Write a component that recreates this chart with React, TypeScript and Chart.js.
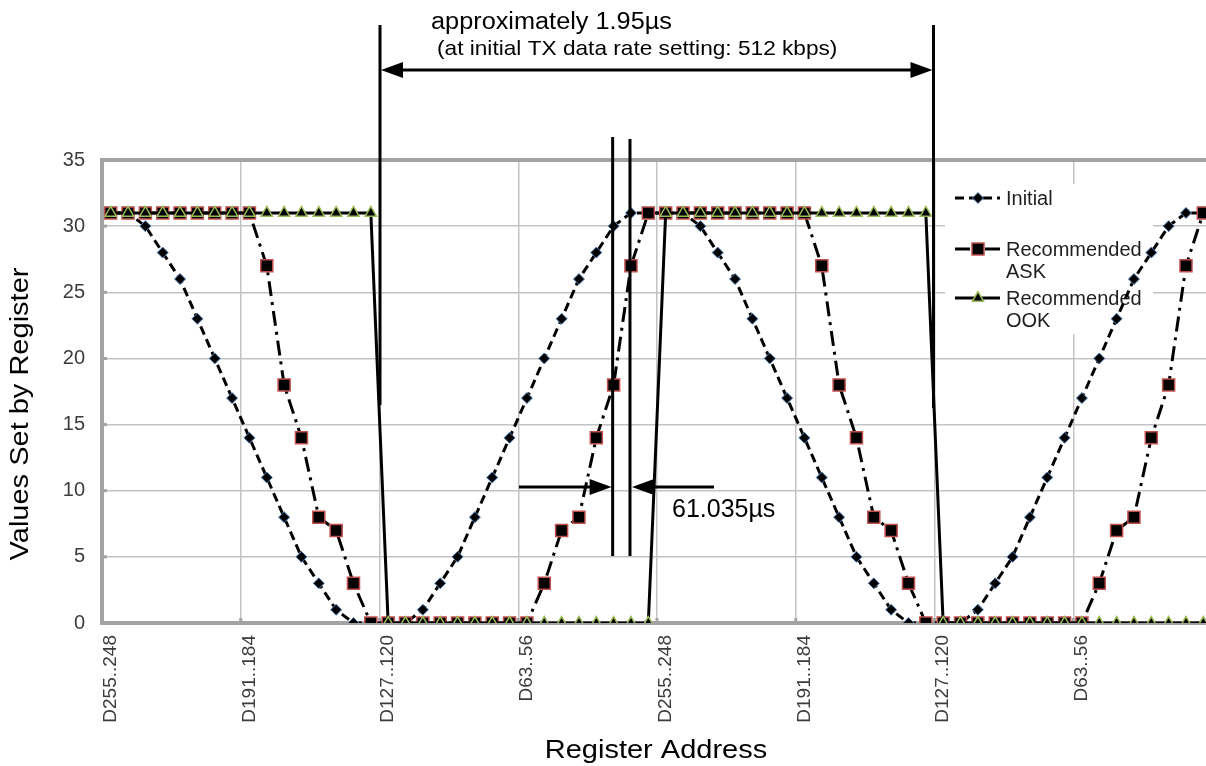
import React, { useEffect, useRef } from 'react';
import { Chart, registerables } from 'chart.js';

Chart.register(...registerables);

// ---------- data ----------
const registerGroups = [
  'D255..248', 'D247..240', 'D239..232', 'D231..224', 'D223..216', 'D215..208', 'D207..200', 'D199..192',
  'D191..184', 'D183..176', 'D175..168', 'D167..160', 'D159..152', 'D151..144', 'D143..136', 'D135..128',
  'D127..120', 'D119..112', 'D111..104', 'D103..96', 'D95..88', 'D87..80', 'D79..72', 'D71..64',
  'D63..56', 'D55..48', 'D47..40', 'D39..32', 'D31..24', 'D23..16', 'D15..8', 'D7..0',
];
const xCategories = [...registerGroups, ...registerGroups];

const initialValues = [
  31, 31, 30, 28, 26, 23, 20, 17, 14, 11, 8, 5, 3, 1, 0, 0,
  0, 0, 1, 3, 5, 8, 11, 14, 17, 20, 23, 26, 28, 30, 31, 31,
  31, 31, 30, 28, 26, 23, 20, 17, 14, 11, 8, 5, 3, 1, 0, 0,
  0, 0, 1, 3, 5, 8, 11, 14, 17, 20, 23, 26, 28, 30, 31, 31,
];
const askValues = [
  31, 31, 31, 31, 31, 31, 31, 31, 31, 27, 18, 14, 8, 7, 3, 0,
  0, 0, 0, 0, 0, 0, 0, 0, 0, 3, 7, 8, 14, 18, 27, 31,
  31, 31, 31, 31, 31, 31, 31, 31, 31, 27, 18, 14, 8, 7, 3, 0,
  0, 0, 0, 0, 0, 0, 0, 0, 0, 3, 7, 8, 14, 18, 27, 31,
];
const ookValues = [
  31, 31, 31, 31, 31, 31, 31, 31, 31, 31, 31, 31, 31, 31, 31, 31,
  0, 0, 0, 0, 0, 0, 0, 0, 0, 0, 0, 0, 0, 0, 0, 0,
  31, 31, 31, 31, 31, 31, 31, 31, 31, 31, 31, 31, 31, 31, 31, 31,
  0, 0, 0, 0, 0, 0, 0, 0, 0, 0, 0, 0, 0, 0, 0, 0,
];
const seriesLabels = [['Initial'], ['Recommended', 'ASK'], ['Recommended', 'OOK']];
const yMin = 0;
const yMax = 35;
const yStep = 5;
const labelEvery = 8;
const xTitle = 'Register Address';
const yTitle = 'Values Set by Register';
const spanText1 = 'approximately 1.95µs';
const spanText2 = '(at initial TX data rate setting: 512 kbps)';
const stepText = '61.035µs';

// ---------- styles ----------
const FONT = '"Liberation Sans", Arial, Helvetica, sans-serif';
const GRID = '#c3c3c3';
const AXIS = '#a3a3a3';

function drawText(ctx, s, x, y, size, align = 'left', sx = 1, color = '#000', rot = 0) {
  ctx.save();
  ctx.translate(x, y);
  if (rot) ctx.rotate(rot);
  ctx.scale(sx, 1);
  ctx.font = `${size}px ${FONT}`;
  ctx.fillStyle = color;
  ctx.textAlign = align;
  ctx.textBaseline = 'alphabetic';
  ctx.fillText(s, 0, 0);
  ctx.restore();
}

function arrowHead(ctx, tipX, y, dir, len = 22, half = 8) {
  ctx.beginPath();
  ctx.moveTo(tipX, y);
  ctx.lineTo(tipX - dir * len, y - half);
  ctx.lineTo(tipX - dir * len, y + half);
  ctx.closePath();
  ctx.fill();
}

function drawMarker(ctx, style, x, y, r, fill, stroke, bw) {
  ctx.save();
  ctx.fillStyle = fill;
  ctx.strokeStyle = stroke;
  ctx.lineWidth = bw;
  ctx.setLineDash([]);
  ctx.beginPath();
  if (style === 'rectRot') {
    ctx.moveTo(x, y - r);
    ctx.lineTo(x + r, y);
    ctx.lineTo(x, y + r);
    ctx.lineTo(x - r, y);
    ctx.closePath();
  } else if (style === 'rect') {
    const s = Math.SQRT1_2 * r;
    ctx.rect(x - s, y - s, 2 * s, 2 * s);
  } else {
    const w = r * Math.sqrt(3) / 2;
    ctx.moveTo(x, y - r);
    ctx.lineTo(x + w, y + r / 2);
    ctx.lineTo(x - w, y + r / 2);
    ctx.closePath();
  }
  ctx.fill();
  ctx.stroke();
  ctx.restore();
}

const decorPlugin = {
  id: 'decor',
  beforeDatasetsDraw(chart) {
    const { ctx, chartArea: a, scales } = chart;
    const xs = scales.x;
    const ys = scales.y;
    ctx.save();
    // top border
    ctx.strokeStyle = AXIS;
    ctx.lineWidth = 4;
    ctx.beginPath();
    ctx.moveTo(a.left - 2, a.top);
    ctx.lineTo(a.right, a.top);
    ctx.stroke();
    // y tick marks (inside)
    ctx.lineWidth = 3;
    for (let v = yMin + yStep; v < yMax; v += yStep) {
      const py = ys.getPixelForValue(v);
      ctx.beginPath();
      ctx.moveTo(a.left, py);
      ctx.lineTo(a.left + 5, py);
      ctx.stroke();
    }
    // x tick marks (inside)
    const w = xs.getPixelForValue(1) - xs.getPixelForValue(0);
    for (let i = labelEvery; i < xCategories.length; i += labelEvery) {
      const px = xs.getPixelForValue(i) - w / 2;
      ctx.beginPath();
      ctx.moveTo(px, a.bottom);
      ctx.lineTo(px, a.bottom - 5);
      ctx.stroke();
    }
    // legend box
    ctx.fillStyle = '#ffffff';
    ctx.fillRect(945, 184, 208, 150);
    const ds = chart.data.datasets;
    const rows = [198, 249, 298];
    const legendOrder = [2, 1, 0];
    legendOrder.forEach((di, k) => {
      const d = ds[di];
      const y = rows[k];
      ctx.save();
      ctx.strokeStyle = '#000';
      ctx.lineWidth = 3;
      ctx.setLineDash(d.borderDash || []);
      ctx.beginPath();
      ctx.moveTo(955, y);
      ctx.lineTo(1000, y);
      ctx.stroke();
      ctx.restore();
      drawMarker(ctx, d.pointStyle, 978, y, d.pointRadius, d.pointBackgroundColor, d.pointBorderColor, d.pointBorderWidth);
      seriesLabels[k].forEach((t, j) => {
        drawText(ctx, t, 1006, y + 7 + j * 22, 20, 'left', 1, '#1e1e1e');
      });
    });
    ctx.restore();
  },
  afterDraw(chart) {
    const { ctx, scales } = chart;
    const xs = scales.x;
    const w = xs.getPixelForValue(1) - xs.getPixelForValue(0);
    const b16 = xs.getPixelForValue(16) - w / 2;
    const b48 = xs.getPixelForValue(48) - w / 2;
    const p29 = xs.getPixelForValue(29);
    const p30 = xs.getPixelForValue(30);
    ctx.save();
    ctx.strokeStyle = '#000';
    ctx.fillStyle = '#000';
    ctx.lineWidth = 3;
    ctx.setLineDash([]);
    // long span verticals
    ctx.beginPath();
    ctx.moveTo(b16 + 0.5, 25);
    ctx.lineTo(b16 + 0.5, 405);
    ctx.moveTo(b48 - 1, 25);
    ctx.lineTo(b48 - 1, 408);
    ctx.stroke();
    // span arrow
    ctx.beginPath();
    ctx.moveTo(b16 + 10, 70);
    ctx.lineTo(b48 - 12, 70);
    ctx.stroke();
    arrowHead(ctx, b16 + 1.5, 70, -1);
    arrowHead(ctx, b48 - 2, 70, 1);
    // step verticals
    ctx.beginPath();
    ctx.moveTo(p29 - 1, 137);
    ctx.lineTo(p29 - 1, 556);
    ctx.moveTo(p30 - 1, 139);
    ctx.lineTo(p30 - 1, 556);
    ctx.stroke();
    // step arrows
    ctx.beginPath();
    ctx.moveTo(519, 487);
    ctx.lineTo(p29 - 12, 487);
    ctx.moveTo(714, 487);
    ctx.lineTo(p30 + 10, 487);
    ctx.stroke();
    arrowHead(ctx, p29 - 2, 487, 1);
    arrowHead(ctx, p30 + 1, 487, -1);
    ctx.restore();
    // texts
    drawText(ctx, spanText1, 431, 29, 23, 'left', 1.1);
    drawText(ctx, spanText2, 437, 55, 20.6, 'left', 1.1);
    drawText(ctx, stepText, 672, 517, 25, 'left', 1.0);
    drawText(ctx, xTitle, 656, 758, 25, 'center', 1.16, '#000');
    drawText(ctx, yTitle, 28, 414, 25, 'center', 1.16, '#000', -Math.PI / 2);
  },
};

export default function App() {
  const ref = useRef(null);
  useEffect(() => {
    const canvas = ref.current;
    if (!canvas) return;
    const chart = new Chart(canvas, {
      type: 'line',
      data: {
        labels: xCategories,
        datasets: [
          {
            label: 'Recommended OOK',
            data: ookValues,
            order: 0,
            borderColor: '#000',
            borderWidth: 3,
            pointStyle: 'triangle',
            pointRadius: 6.5,
            pointBackgroundColor: '#000',
            pointBorderColor: '#9bbb59',
            pointBorderWidth: 1.5,
            tension: 0,
          },
          {
            label: 'Recommended ASK',
            data: askValues,
            order: 1,
            borderColor: '#000',
            borderWidth: 3,
            borderDash: [15, 6, 3, 6],
            pointStyle: 'rect',
            pointRadius: 8.5,
            pointBackgroundColor: '#000',
            pointBorderColor: '#c0504d',
            pointBorderWidth: 1.5,
            tension: 0,
          },
          {
            label: 'Initial',
            data: initialValues,
            order: 2,
            borderColor: '#000',
            borderWidth: 3,
            borderDash: [9, 5],
            pointStyle: 'rectRot',
            pointRadius: 5.5,
            pointBackgroundColor: '#000',
            pointBorderColor: '#4f81bd',
            pointBorderWidth: 1,
            tension: 0,
          },
        ],
      },
      options: {
        animation: false,
        responsive: false,
        devicePixelRatio: 1,
        layout: { padding: { top: 160, right: 2, left: 0, bottom: 0 } },
        plugins: { legend: { display: false }, tooltip: { enabled: false }, title: { display: false } },
        scales: {
          x: {
            type: 'category',
            offset: true,
            grid: {
              offset: true,
              drawTicks: false,
              lineWidth: 1.5,
              color: (c) => (c.index % labelEvery === 0 ? GRID : 'rgba(0,0,0,0)'),
            },
            border: { display: true, color: AXIS, width: 4 },
            ticks: {
              autoSkip: false,
              maxRotation: 90,
              minRotation: 90,
              padding: 12,
              color: '#3c3c3c',
              font: { family: FONT, size: 19 },
              callback: (v, i) => (i % labelEvery === 0 ? xCategories[i] : ''),
            },
            afterFit: (s) => {
              s.height = 143;
              s.paddingLeft = 0;
              s.paddingRight = 0;
            },
          },
          y: {
            min: yMin,
            max: yMax,
            grid: { drawTicks: false, color: GRID, lineWidth: 1.5 },
            border: { display: true, color: AXIS, width: 4 },
            ticks: {
              stepSize: yStep,
              padding: 17,
              color: '#3c3c3c',
              font: { family: FONT, size: 20 },
            },
            afterFit: (s) => {
              s.width = 102;
              s.paddingTop = 0;
              s.paddingBottom = 0;
            },
          },
        },
      },
      plugins: [decorPlugin],
    });
    return () => chart.destroy();
  }, []);
  return (
    <div style={{ position: 'fixed', left: 0, top: 0, width: 1206, height: 766, overflow: 'hidden', background: '#fff' }}>
      <canvas ref={ref} width={1222} height={766} style={{ display: 'block', width: 1222, height: 766 }} />
    </div>
  );
}
